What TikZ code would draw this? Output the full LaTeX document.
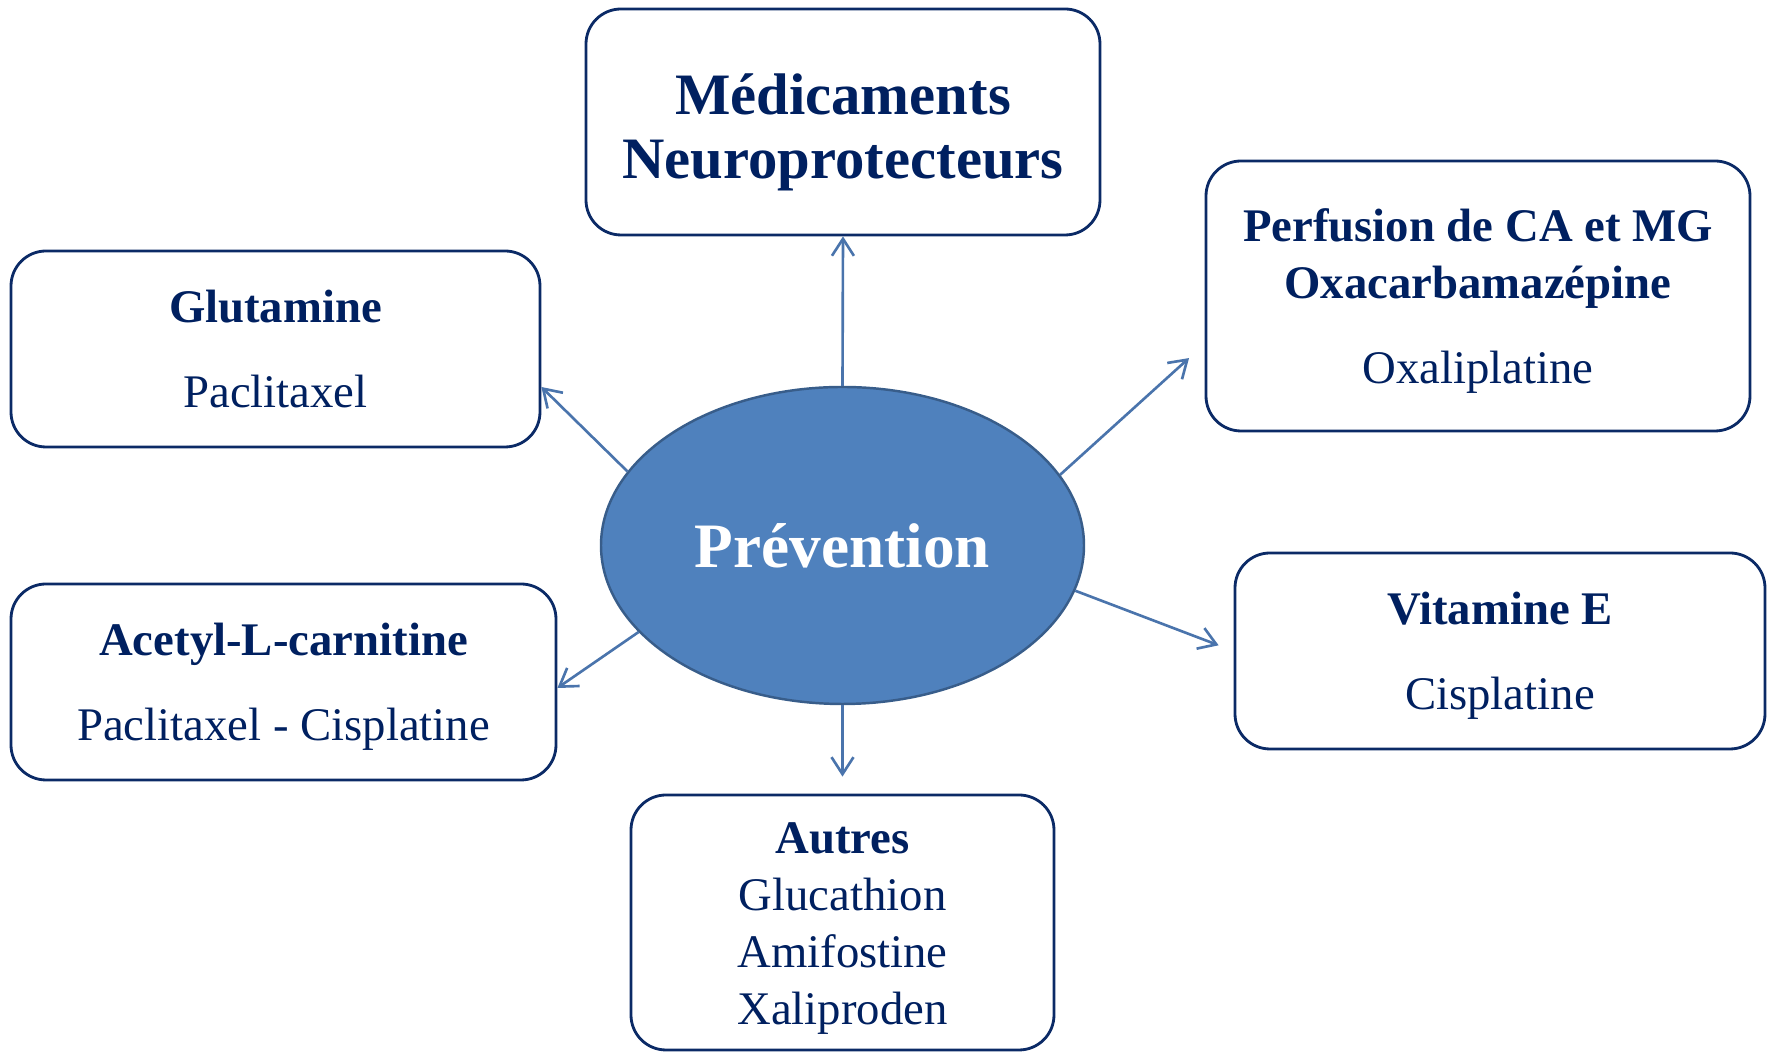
\documentclass[tikz,border=0pt]{standalone}
\usepackage{fontspec}
\setmainfont{Liberation Serif}
\usetikzlibrary{shapes.geometric,arrows.meta}
\definecolor{navytext}{HTML}{002060}
\definecolor{boxline}{HTML}{0B2A66}
\definecolor{ovalfill}{HTML}{4F81BD}
\definecolor{ovalline}{HTML}{385D8A}
\definecolor{linkline}{HTML}{4A74AC}
\newcommand{\toplift}{\rule{0pt}{12.2pt}}

\begin{document}
\begin{tikzpicture}[
  infobox/.style={draw=boxline, line width=0.8pt, rounded corners=3.5mm, align=center,
    text=navytext, inner sep=0pt, font=\fontsize{13.3}{16.2}\selectfont},
  link/.style={draw=linkline, line width=0.75pt, -{Straight Barb[length=1.7mm,width=2.2mm]}}
]
\useasboundingbox (0,0) rectangle (17.74,-10.52);

% Draw the central oval
\node[ellipse, fill=ovalfill, draw=ovalline, line width=0.7pt, minimum width=4.83cm,
  minimum height=3.17cm, inner sep=0pt, text=white,
  font=\fontsize{18}{20}\selectfont\bfseries] (prev) at (8.425,-5.455) {Prévention};

% Draw the boxes round it
\node[infobox, minimum width=5.14cm, minimum height=2.26cm,
  font=\fontsize{16.7}{18}\selectfont\bfseries] (med) at (8.43,-1.22)
  {\rule{0pt}{17.5pt}Médicaments\\Neuroprotecteurs};
\node[infobox, minimum width=5.29cm, minimum height=1.96cm] (glu) at (2.755,-3.49)
  {\toplift\textbf{Glutamine}\\[8pt]Paclitaxel\vphantom{p}};
\node[infobox, minimum width=5.45cm, minimum height=1.96cm] (ace) at (2.835,-6.82)
  {\toplift\textbf{Acetyl-L-carnitine}\\[8pt]Paclitaxel - Cisplatine};
\node[infobox, minimum width=5.44cm, minimum height=2.70cm] (perf) at (14.78,-2.96)
  {\toplift\textbf{Perfusion de CA et MG}\\\textbf{Oxacarbamazépine}\\[8pt]Oxaliplatine};
\node[infobox, minimum width=5.30cm, minimum height=1.96cm] (vit) at (15.00,-6.51)
  {\toplift\textbf{Vitamine E}\\[8pt]Cisplatine};
\node[infobox, minimum width=4.23cm, minimum height=2.55cm] (aut) at (8.425,-9.225)
  {\toplift\textbf{Autres}\\Glucathion\\Amifostine\\Xaliproden};

% Draw the arrows
\draw[link] (prev.north) -- (med.south);
\draw[link] (prev.161.6) -- ([yshift=-3.8mm]glu.east);
\draw[link] (prev.203.3) -- ([yshift=-0.6mm]ace.east);
\draw[link, shorten >=2.1mm] (prev.18.1) -- ([yshift=-4.8mm]perf.west);
\draw[link, shorten >=1.6mm] (prev.349.8) -- (vit.west);
\draw[link, shorten >=1.7mm] (prev.south) -- (aut.north);
\end{tikzpicture}
\end{document}
